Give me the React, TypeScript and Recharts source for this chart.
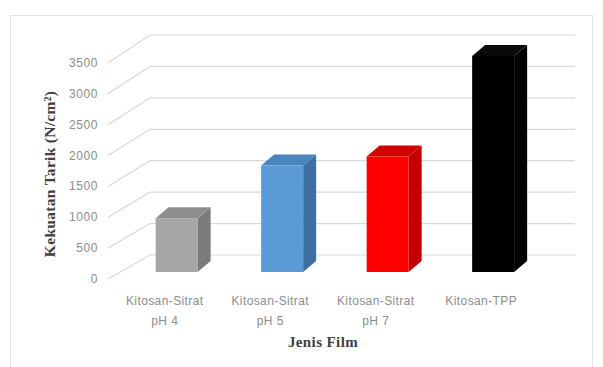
import React from "react";
import { BarChart, Bar, XAxis, YAxis, CartesianGrid, Cell } from "recharts";

const categories = ["Kitosan-Sitrat|pH 4", "Kitosan-Sitrat|pH 5", "Kitosan-Sitrat|pH 7", "Kitosan-TPP"];
const values = [870, 1725, 1870, 3500];
const yTicks = [0, 500, 1000, 1500, 2000, 2500, 3000, 3500];
const frontColors = ["#a6a6a6", "#5b9bd5", "#ff0000", "#000000"];
const sideColors = ["#7b7b7b", "#3d6fa0", "#c00000", "#000000"];
const topColors = ["#8e8e8e", "#4a85bd", "#d40000", "#0a0a0a"];

const data = categories.map((c, i) => ({ name: c, value: values[i], idx: i }));

const W = 603;
const H = 367;
const PL = 112;
const PR = 534;
const PT = 63;
const PB = 279;
const XAXIS_H = 88;

const BAR_OX = 12;
const BAR_OY = -7;
const DEPTH_X = 13;
const DEPTH_Y = -11;

const Bar3D = (props: any) => {
  const { x, y, width, height, payload } = props;
  const i = payload.idx;
  const fx = x + BAR_OX;
  const fy = y + BAR_OY;
  const fb = fy + height;
  const fr = fx + width;
  const front = `M${fx},${fy} L${fr},${fy} L${fr},${fb} L${fx},${fb} Z`;
  const side = `M${fr},${fy} L${fr + DEPTH_X},${fy + DEPTH_Y} L${fr + DEPTH_X},${fb + DEPTH_Y} L${fr},${fb} Z`;
  const top = `M${fx},${fy} L${fx + DEPTH_X},${fy + DEPTH_Y} L${fr + DEPTH_X},${fy + DEPTH_Y} L${fr},${fy} Z`;
  return (
    <g>
      <path d={side} fill={sideColors[i]} />
      <path d={top} fill={topColors[i]} />
      <path d={front} fill={frontColors[i]} />
    </g>
  );
};

const GridLine = (props: any) => {
  const { x1, y1, x2 } = props;
  const t = (PB - y1) / (PB - PT);
  const dy = -24 - 4 * t;
  const dx = 40;
  return (
    <path
      key={`g-${y1}`}
      d={`M${x1 - 4},${y1} L${x1 + dx - 2},${y1 + dy} L${x2 + dx + 1},${y1 + dy}`}
      stroke="#d9d9d9"
      strokeWidth={1.2}
      fill="none"
    />
  );
};

const XTick = (props: any) => {
  const { x, y, payload } = props;
  const parts = String(payload.value).split("|");
  return (
    <g>
      {parts.map((p, k) => (
        <text
          key={k}
          x={x}
          y={y + 18 + k * 20}
          textAnchor="middle"
          fontFamily="Liberation Sans, Arial, sans-serif"
          fontSize={12}
          letterSpacing={0.4}
          fill="#8c8c8c"
        >
          {p}
        </text>
      ))}
    </g>
  );
};

const YTick = (props: any) => {
  const { x, y, payload } = props;
  return (
    <text
      x={x}
      y={y + 4}
      textAnchor="end"
      fontFamily="Liberation Sans, Arial, sans-serif"
      fontSize={12}
      letterSpacing={0.6}
      fill="#8c8c8c"
    >
      {payload.value}
    </text>
  );
};

export default function App() {
  return (
    <div style={{ position: "absolute", left: 0, top: 0, width: W, height: H, overflow: "hidden", background: "#fff" }}>
      <div
        style={{
          position: "absolute",
          left: 10,
          top: 15,
          width: 583,
          height: 400,
          border: "1px solid #e2e2e2",
          boxSizing: "border-box",
        }}
      />
      <div style={{ position: "absolute", left: 0, top: 0 }}>
        <BarChart
          width={W}
          height={H}
          data={data}
          margin={{ top: PT, right: W - PR, bottom: H - PB - XAXIS_H, left: PL - 40 }}
          barCategoryGap="30%"
        >
          <CartesianGrid vertical={false} horizontal={GridLine as any} />
          <XAxis
            dataKey="name"
            axisLine={false}
            tickLine={false}
            tick={XTick as any}
            interval={0}
            height={XAXIS_H}
            label={{
              content: () => (
                <text
                  x={323}
                  y={347}
                  textAnchor="middle"
                  fontFamily="Liberation Serif, Times New Roman, serif"
                  fontWeight="bold"
                  fontSize={15}
                  letterSpacing={0.4}
                  fill="#404040"
                >
                  Jenis Film
                </text>
              ),
            }}
          />
          <YAxis
            width={40}
            domain={[0, 3500]}
            ticks={yTicks}
            interval={0}
            axisLine={false}
            tickLine={false}
            tickSize={0}
            tickMargin={14}
            tick={YTick as any}
            label={{
              content: () => (
                <text
                  x={55}
                  y={174}
                  transform="rotate(-90 55 174)"
                  textAnchor="middle"
                  fontFamily="Liberation Serif, Times New Roman, serif"
                  fontWeight="bold"
                  fontSize={15.5}
                  letterSpacing={0.3}
                  fill="#404040"
                >
                  Kekuatan Tarik (N/cm²)
                </text>
              ),
            }}
          />
          <Bar dataKey="value" isAnimationActive={false} shape={Bar3D as any}>
            {data.map((d) => (
              <Cell key={d.name} fill={frontColors[d.idx]} />
            ))}
          </Bar>
        </BarChart>
      </div>
    </div>
  );
}
